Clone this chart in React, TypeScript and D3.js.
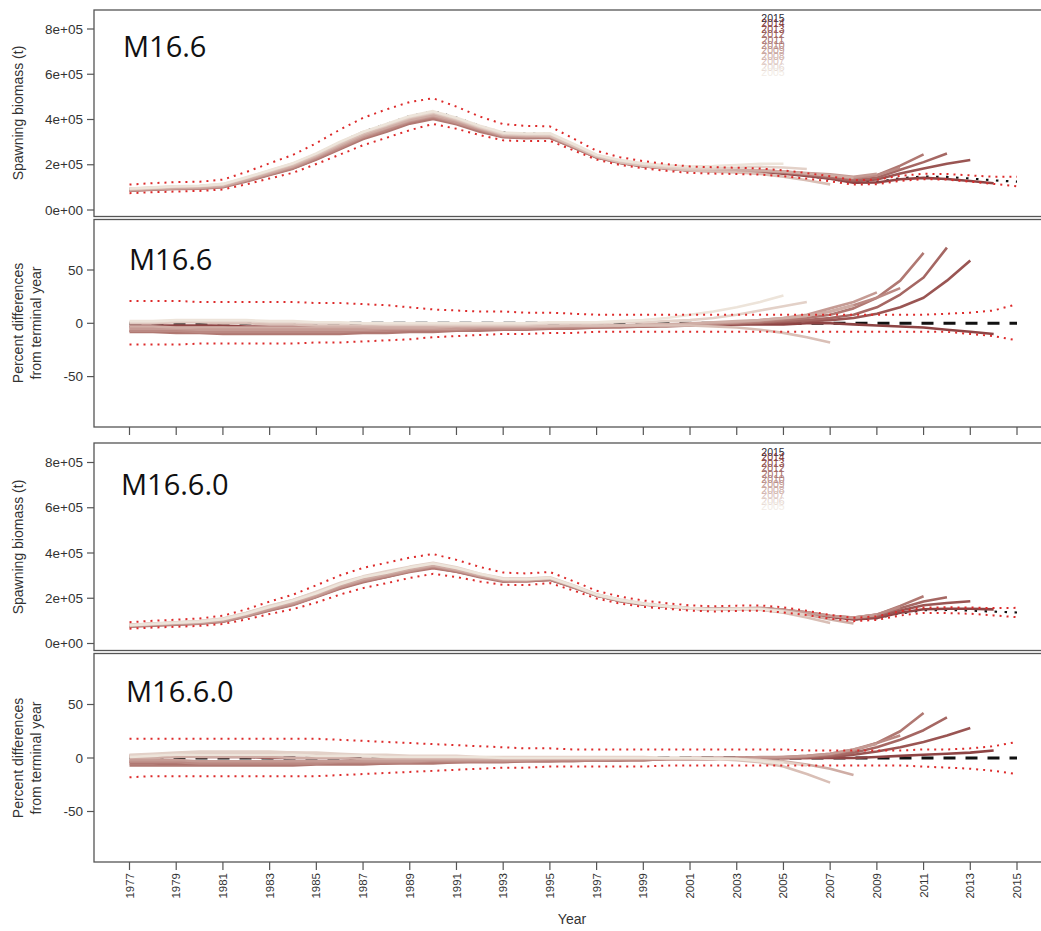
import React from 'react';
import * as d3 from 'd3';

// ---------- DATA ----------
const years = [1977,1978,1979,1980,1981,1982,1983,1984,1985,1986,1987,1988,1989,1990,1991,1992,1993,1994,1995,1996,1997,1998,1999,2000,2001,2002,2003,2004,2005,2006,2007,2008,2009,2010,2011,2012,2013,2014,2015];
const xTickYears = [1977,1979,1981,1983,1985,1987,1989,1991,1993,1995,1997,1999,2001,2003,2005,2007,2009,2011,2013,2015];
const legendYears = [2015,2014,2013,2012,2011,2010,2009,2008,2007,2006,2005];
const peelYears = [2014,2013,2012,2011,2010,2009,2008,2007,2006,2005];
const biomassTicks = [0, 2e5, 4e5, 6e5, 8e5];
const biomassTickLabels = ['0e+00','2e+05','4e+05','6e+05','8e+05'];
const pctTicks = [-50, 0, 50];

// Model M16.6 — terminal (2015) spawning biomass (t)
const m166Biomass = [93e3,98e3,102e3,104e3,112e3,140e3,172e3,203e3,248e3,298e3,345e3,380e3,415e3,437e3,408e3,372e3,342e3,338e3,336e3,290e3,242e3,216e3,200e3,188e3,178e3,175e3,173e3,170e3,162e3,151e3,138e3,122e3,124e3,140e3,148e3,146e3,139e3,131e3,125e3];
// CI (percent relative to terminal)
const m166CiUpper = [21,21,21,20,20,20,20,20,19,19,18,17,15,13,12,11,11,10,10,9,8,8,8,8,8,8,8,8,8,8,8,8,8,8,8,9,10,12,18];
const m166CiLower = [-20,-20,-20,-19,-19,-19,-19,-19,-18,-18,-17,-16,-15,-13,-12,-11,-10,-10,-9,-9,-8,-8,-8,-8,-8,-8,-8,-8,-8,-8,-8,-8,-8,-8,-8,-8,-10,-12,-16];
// Retrospective peels: percent difference from terminal year, 1977..peel year
const m166Pct2014 = [-2,-2,-2,-2,-2,-3,-3,-3,-3,-3,-3,-3,-3,-3,-3,-3,-3,-3,-3,-3,-3,-2,-2,-2,-2,-2,-1,-1,-1,0,0,-1,-2,-3,-4,-6,-8,-10];
const m166Pct2013 = [-4,-4,-4,-5,-5,-5,-5,-5,-5,-5,-5,-5,-5,-5,-5,-4,-4,-4,-4,-4,-3,-3,-3,-2,-2,-1,-1,0,1,2,3,5,9,15,24,40,59];
const m166Pct2012 = [-7,-7,-7,-8,-8,-8,-9,-9,-9,-9,-8,-8,-7,-7,-6,-6,-5,-5,-5,-4,-4,-3,-3,-2,-2,-1,0,1,2,3,5,8,15,27,43,71];
const m166Pct2011 = [-8,-8,-9,-9,-10,-10,-10,-10,-10,-10,-9,-9,-8,-8,-7,-7,-6,-6,-5,-5,-4,-4,-3,-3,-2,-1,0,1,3,5,8,14,24,40,66];
const m166Pct2010 = [-7,-7,-7,-8,-8,-8,-8,-8,-8,-8,-7,-7,-6,-6,-6,-5,-5,-5,-4,-4,-3,-3,-2,-2,-1,0,1,2,4,7,11,17,24,33];
const m166Pct2009 = [-5,-5,-5,-6,-6,-6,-6,-6,-6,-6,-6,-5,-5,-5,-5,-4,-4,-4,-3,-3,-3,-2,-2,-1,-1,0,1,3,5,8,14,20,29];
const m166Pct2008 = [-3,-3,-4,-4,-4,-4,-4,-4,-4,-4,-4,-4,-4,-4,-3,-3,-3,-3,-3,-2,-2,-2,-1,-1,0,1,2,3,5,7,11,17];
const m166Pct2007 = [0,0,1,1,0,0,-1,-1,-2,-2,-2,-2,-2,-2,-2,-2,-2,-2,-2,-2,-2,-2,-2,-2,-2,-3,-4,-6,-9,-13,-18];
const m166Pct2006 = [1,1,2,2,2,2,1,1,0,0,0,-1,-1,-1,-1,-1,-1,-1,0,0,0,1,1,2,3,5,8,12,16,20];
const m166Pct2005 = [2,2,3,3,3,3,2,2,1,1,0,0,0,0,0,0,0,0,1,1,1,2,3,5,8,11,15,20,26];

// Model M16.6.0
const m1660Biomass = [80e3,85e3,89e3,94e3,104e3,128e3,157e3,183e3,218e3,257e3,288e3,310e3,333e3,350e3,330e3,305e3,285e3,284e3,290e3,255e3,216e3,192e3,176e3,165e3,156e3,152e3,155e3,156e3,148e3,135e3,118e3,106e3,112e3,133e3,147e3,148e3,146e3,141e3,137e3];
const m1660CiUpper = [18,18,18,18,18,18,18,18,18,17,16,15,14,13,12,11,10,9,9,8,8,8,8,8,8,8,8,8,8,7,7,7,7,7,8,8,9,11,15];
const m1660CiLower = [-18,-17,-17,-17,-17,-17,-17,-17,-17,-16,-15,-14,-13,-12,-11,-10,-9,-9,-8,-8,-8,-8,-8,-7,-7,-7,-7,-7,-7,-7,-7,-7,-7,-7,-8,-9,-10,-12,-15];
const m1660Pct2014 = [2,2,2,1,1,1,0,0,0,0,-1,-1,-1,-1,-1,-1,-1,-1,-1,-1,-1,-1,-1,-1,0,0,0,0,0,0,0,0,1,2,3,4,5,7];
const m1660Pct2013 = [-3,-3,-3,-3,-3,-3,-3,-3,-3,-3,-3,-3,-3,-2,-2,-2,-2,-2,-2,-2,-2,-2,-1,-1,-1,-1,0,0,0,0,1,3,6,10,15,21,28];
const m1660Pct2012 = [-5,-5,-6,-6,-6,-6,-6,-6,-5,-5,-5,-5,-4,-4,-4,-3,-3,-3,-3,-2,-2,-2,-2,-1,-1,-1,0,0,0,1,2,5,10,17,26,38];
const m1660Pct2011 = [-7,-7,-7,-7,-7,-7,-7,-7,-6,-6,-6,-5,-5,-5,-4,-4,-4,-3,-3,-3,-2,-2,-2,-1,-1,-1,0,0,0,1,3,7,14,25,42];
const m1660Pct2010 = [-4,-4,-4,-5,-5,-5,-5,-5,-5,-4,-4,-4,-4,-3,-3,-3,-3,-2,-2,-2,-2,-1,-1,-1,-1,0,0,0,1,2,4,8,14,21];
const m1660Pct2009 = [-2,-2,-2,-3,-3,-3,-3,-3,-3,-3,-3,-3,-3,-2,-2,-2,-2,-2,-1,-1,-1,-1,-1,0,0,0,0,1,1,2,4,8,13];
const m1660Pct2008 = [0,0,1,1,1,1,1,0,0,0,-1,-1,-1,-1,-1,-1,-1,-1,-1,-1,-1,-1,-1,-1,-1,-1,-1,-2,-3,-6,-10,-16];
const m1660Pct2007 = [2,3,4,4,5,5,5,5,4,3,2,2,1,1,1,0,0,0,0,0,0,0,0,-1,-1,-1,-2,-4,-8,-15,-23];
const m1660Pct2006 = [3,4,5,6,6,6,6,5,5,4,3,3,2,2,2,1,1,1,1,1,1,1,1,0,0,0,-1,-2,-4,-7];
const m1660Pct2005 = [1,2,3,3,3,3,3,3,2,2,2,1,1,1,1,1,0,0,0,0,0,0,0,0,0,-1,-1,-3,-5];

const m166Peels = [m166Pct2014, m166Pct2013, m166Pct2012, m166Pct2011, m166Pct2010, m166Pct2009, m166Pct2008, m166Pct2007, m166Pct2006, m166Pct2005];
const m1660Peels = [m1660Pct2014, m1660Pct2013, m1660Pct2012, m1660Pct2011, m1660Pct2010, m1660Pct2009, m1660Pct2008, m1660Pct2007, m1660Pct2006, m1660Pct2005];

// ---------- LAYOUT ----------
const W = 1041, H = 931;
const LEFT = 94, RIGHT = 1052.5;
const x = d3.scaleLinear().domain([1975.48, 2016.52]).range([LEFT, RIGHT]);
const peelColor = (i: number) => d3.interpolateLab('#8e4444', '#ede4da')(i / 9);
const legendColor = (i: number) => (i === 0 ? '#2b2b38' : d3.interpolateLab('#7e3434', '#f2ece6')((i - 1) / 9));
const RED = '#dd2a2a';
const AXIS_FONT = '"Liberation Sans", Arial, sans-serif';

type Pt = [number, number];
const lineGen = d3.line<Pt>().x(d => x(d[0])).y(d => d[1]);

function Panel(props: {
  id: string; top: number; bottom: number; kind: 'bio' | 'pct'; y: d3.ScaleLinear<number, number>;
  biomass: number[]; peels: number[][]; ciU: number[]; ciL: number[]; label: string; labelX: number; labelY: number;
  xTicks: boolean; legendTop?: number;
}) {
  const { id, top, bottom, kind, y, biomass, peels, ciU, ciL } = props;
  const val = (i: number, p: number) => (kind === 'bio' ? biomass[i] * (1 + p / 100) : p);
  const peelLines = peels.map((arr, k) => ({
    k,
    year: peelYears[k],
    pts: arr.map((p, i) => [years[i], y(val(i, p))] as Pt),
  }));
  const term = years.map((yr, i) => [yr, y(val(i, 0))] as Pt);
  const up = years.map((yr, i) => [yr, y(val(i, ciU[i]))] as Pt);
  const lo = years.map((yr, i) => [yr, y(val(i, ciL[i]))] as Pt);
  const ticks = kind === 'bio' ? biomassTicks : pctTicks;
  return (
    <g>
      <defs>
        <clipPath id={id}>
          <rect x={LEFT} y={top} width={RIGHT - LEFT} height={bottom - top} />
        </clipPath>
      </defs>
      <g clipPath={`url(#${id})`}>
        {kind === 'bio' ? (
          <path d={lineGen(term) || ''} fill="none" stroke="#111" strokeWidth={2.2} strokeDasharray="2.5,7.5" />
        ) : (
          <path d={lineGen(term) || ''} fill="none" stroke="#111" strokeWidth={3} strokeDasharray="12,10" />
        )}
        {peelLines.map(l => (
          <path key={l.year} d={lineGen(l.pts) || ''} fill="none" stroke={peelColor(l.k)} strokeWidth={2.6} strokeLinejoin="round" />
        ))}
        <path d={lineGen(up) || ''} fill="none" stroke={RED} strokeWidth={2} strokeDasharray="2,5" />
        <path d={lineGen(lo) || ''} fill="none" stroke={RED} strokeWidth={2} strokeDasharray="2,5" />
      </g>
      <rect x={LEFT} y={top} width={RIGHT - LEFT} height={bottom - top} fill="none" stroke="#555" strokeWidth={1.3} />
      {ticks.map((t, i) => (
        <g key={t}>
          <line x1={LEFT - 7} x2={LEFT} y1={y(t)} y2={y(t)} stroke="#555" strokeWidth={1.2} />
          <text x={LEFT - 11} y={y(t)} dy="0.35em" textAnchor="end" fontSize={13.5} fontFamily={AXIS_FONT} fill="#333">
            {kind === 'bio' ? biomassTickLabels[i] : String(t)}
          </text>
        </g>
      ))}
      {props.xTicks && xTickYears.map(yr => (
        <line key={yr} x1={x(yr)} x2={x(yr)} y1={bottom} y2={bottom + 8} stroke="#555" strokeWidth={1.2} />
      ))}
      <text x={props.labelX} y={props.labelY} fontSize={29} fontFamily='"Open Sans", "Noto Sans", sans-serif' fill="#111">
        {props.label}
      </text>
      {props.legendTop !== undefined && legendYears.map((ly, i) => (
        <text key={ly} x={773} y={props.legendTop! + i * 5.4} textAnchor="middle" fontSize={10.5} fontFamily={AXIS_FONT} fill={legendColor(i)}>
          {ly}
        </text>
      ))}
    </g>
  );
}

export default function App() {
  const y1 = d3.scaleLinear().domain([0, 8e5]).range([210, 29]);
  const y2 = d3.scaleLinear().domain([-50, 50]).range([376.6, 270]);
  const y3 = d3.scaleLinear().domain([0, 8e5]).range([643.5, 462.5]);
  const y4 = d3.scaleLinear().domain([-50, 50]).range([811.5, 704.5]);
  return (
    <svg width={W} height={H} style={{ position: 'absolute', left: 0, top: 0, background: '#fff' }}>
      <rect x={0} y={0} width={W} height={H} fill="#fff" />
      <Panel id="c1" top={10} bottom={216.5} kind="bio" y={y1} biomass={m166Biomass} peels={m166Peels} ciU={m166CiUpper} ciL={m166CiLower}
        label="M16.6" labelX={123} labelY={57} xTicks={false} legendTop={22} />
      <Panel id="c2" top={219.5} bottom={427} kind="pct" y={y2} biomass={m166Biomass} peels={m166Peels} ciU={m166CiUpper} ciL={m166CiLower}
        label="M16.6" labelX={129} labelY={270} xTicks={true} />
      <Panel id="c3" top={443} bottom={650.5} kind="bio" y={y3} biomass={m1660Biomass} peels={m1660Peels} ciU={m1660CiUpper} ciL={m1660CiLower}
        label="M16.6.0" labelX={121} labelY={495} xTicks={false} legendTop={456} />
      <Panel id="c4" top={653.5} bottom={862} kind="pct" y={y4} biomass={m1660Biomass} peels={m1660Peels} ciU={m1660CiUpper} ciL={m1660CiLower}
        label="M16.6.0" labelX={126} labelY={702} xTicks={true} />
      {xTickYears.map(yr => (
        <text key={yr} transform={`translate(${x(yr)},873) rotate(-90)`} dy="0.35em" textAnchor="end" fontSize={11.5} fontFamily={AXIS_FONT} fill="#333">
          {yr}
        </text>
      ))}
      <text x={572} y={924} textAnchor="middle" fontSize={14} fontFamily={AXIS_FONT} fill="#333">Year</text>
      <text transform="translate(23,113) rotate(-90)" textAnchor="middle" fontSize={14} fontFamily={AXIS_FONT} fill="#333">Spawning biomass (t)</text>
      <text transform="translate(23,323) rotate(-90)" textAnchor="middle" fontSize={14} fontFamily={AXIS_FONT} fill="#333">Percent differences</text>
      <text transform="translate(41,323) rotate(-90)" textAnchor="middle" fontSize={14} fontFamily={AXIS_FONT} fill="#333">from terminal year</text>
      <text transform="translate(23,547) rotate(-90)" textAnchor="middle" fontSize={14} fontFamily={AXIS_FONT} fill="#333">Spawning biomass (t)</text>
      <text transform="translate(23,758) rotate(-90)" textAnchor="middle" fontSize={14} fontFamily={AXIS_FONT} fill="#333">Percent differences</text>
      <text transform="translate(41,758) rotate(-90)" textAnchor="middle" fontSize={14} fontFamily={AXIS_FONT} fill="#333">from terminal year</text>
    </svg>
  );
}
